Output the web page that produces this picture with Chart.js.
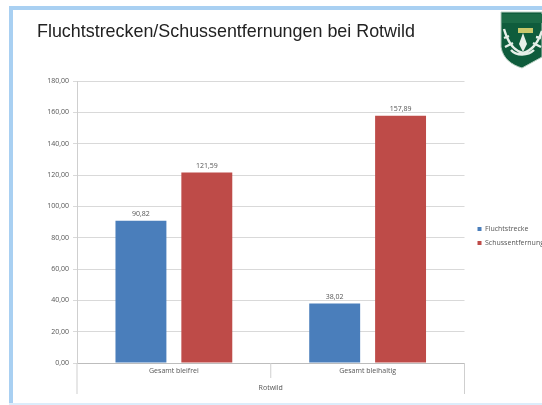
<!DOCTYPE html>
<html>
<head>
<meta charset="utf-8">
<title>Fluchtstrecken/Schussentfernungen bei Rotwild</title>
<script src="https://cdn.jsdelivr.net/npm/chart.js@4"></script>
<style>
  html, body { margin: 0; padding: 0; background: #fff; overflow: hidden; }
  #page { position: relative; width: 542px; height: 405px; overflow: hidden; filter: blur(0.35px); }
  #top { position: absolute; left: 9px; top: 6px; right: 0; height: 4px; background: #a9d0f2; }
  #left { position: absolute; left: 9px; top: 6px; bottom: 0; width: 4px; background: #a9d0f2; }
  #bottom { position: absolute; left: 9px; right: 0; top: 403px; height: 2px; background: #dcedfb; }
  #title { position: absolute; left: 37px; top: 21px; font: 17.9px "Liberation Sans", sans-serif; color: #222; white-space: nowrap; }
  #logo { position: absolute; left: 500px; top: 11px; width: 42px; height: 58px; }
  #wrap { position: absolute; left: 0; top: 0; width: 548px; height: 405px; }
</style>
</head>
<body>
<div id="page">
  <div id="top"></div><div id="left"></div><div id="bottom"></div>
  <div id="title">Fluchtstrecken/Schussentfernungen bei Rotwild</div>
  <svg id="logo" viewBox="0 0 42 58">
    <path d="M1 1 H42 V46 L22 57 C12 54 3 48 1 36 Z" fill="#0f5c3c" stroke="#b9cfc2" stroke-width="1"/>
    <rect x="2" y="3" width="40" height="9" fill="#1c6b47"/>
    <rect x="18" y="17" width="15" height="5" fill="#c9c86a"/>
    <path d="M4 18 C8 32 14 40 23 42 C31 40 38 32 42 20 M9 25 L4 27 M13 32 L5 36 M33 32 L41 36 M36 26 L41 27 M11 39 C16 45 28 45 34 39" fill="none" stroke="#e6efe8" stroke-width="2.4"/>
    <path d="M23 22 L27 33 L23 41 L19 33 Z" fill="#e6efe8"/>
  </svg>
  <div id="wrap"><canvas id="chart"></canvas></div>
</div>
<script>
const categories = ["Gesamt bleifrei", "Gesamt bleihaltig"];
const flucht = [90.82, 38.02];
const schuss = [121.59, 157.89];
const groupLabel = "Rotwild";

const fmt = v => v.toFixed(2).replace(".", ",");
const smallFont = { family: "'Open Sans', sans-serif", size: 7 };
const textColor = "#555";

// value labels above the bars, the two level axis separators, legend nudge
const extras = {
  id: "extras",
  afterLayout(chart) {
    chart.legend.left += 6;
    chart.legend.top -= 1;
  },
  afterDatasetsDraw(chart) {
    const c = chart.ctx;
    c.save();
    c.font = "7px 'Open Sans', sans-serif";
    c.fillStyle = textColor;
    c.textAlign = "center";
    c.textBaseline = "bottom";
    chart.data.datasets.forEach((ds, i) => {
      chart.getDatasetMeta(i).data.forEach((bar, j) => {
        c.fillText(fmt(ds.data[j]), bar.x, bar.y - 3);
      });
    });
    const a = chart.chartArea;
    c.strokeStyle = "#cfcfcf";
    c.lineWidth = 1;
    c.beginPath();
    c.moveTo(a.left, a.bottom); c.lineTo(a.left, a.bottom + 31);
    c.moveTo(a.right, a.bottom); c.lineTo(a.right, a.bottom + 31);
    const mid = (a.left + a.right) / 2;
    c.moveTo(mid, a.bottom); c.lineTo(mid, a.bottom + 15);
    c.stroke();
    c.restore();
  }
};

new Chart(document.getElementById("chart"), {
  type: "bar",
  data: {
    labels: categories,
    datasets: [
      { label: "Fluchtstrecke", data: flucht, backgroundColor: "#4a7ebb" },
      { label: "Schussentfernung", data: schuss, backgroundColor: "#be4b48" }
    ]
  },
  options: {
    responsive: true,
    maintainAspectRatio: false,
    animation: false,
    categoryPercentage: 0.68,
    barPercentage: 0.773,
    layout: { padding: { top: 81, bottom: 13 } },
    plugins: {
      tooltip: { enabled: false },
      legend: {
        position: "right",
        labels: { boxWidth: 4, boxHeight: 4, padding: 7, font: smallFont, color: textColor }
      }
    },
    scales: {
      x: {
        afterFit(s) { s.height = 29; },
        border: { color: "#bdbdbd" },
        grid: { display: false, tickLength: 0 },
        ticks: { font: smallFont, color: textColor, maxRotation: 0, padding: 4 },
        title: { display: true, text: groupLabel, font: smallFont, color: textColor, padding: 0 }
      },
      y: {
        min: 0,
        max: 180,
        afterFit(s) { s.width = 77; },
        border: { color: "#cfcfcf" },
        grid: { color: "#d9d9d9", tickLength: 4 },
        ticks: { stepSize: 20, font: smallFont, color: textColor, padding: 4, callback: v => fmt(v) }
      }
    }
  },
  plugins: [extras]
});
</script>
</body>
</html>
